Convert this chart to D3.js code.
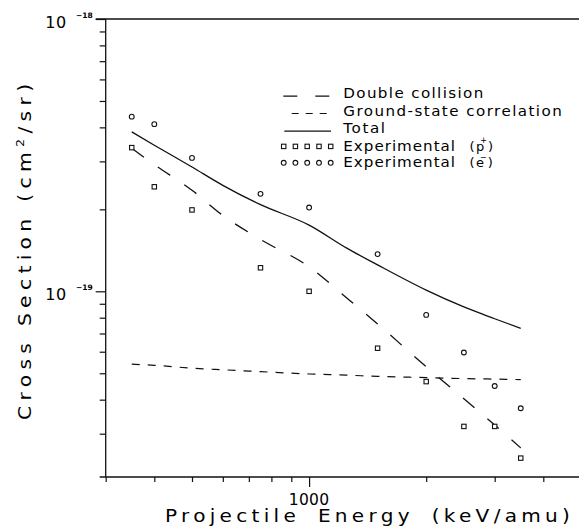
<!DOCTYPE html>
<html>
<head>
<meta charset="utf-8">
<script src="https://cdn.jsdelivr.net/npm/d3@7/dist/d3.min.js"></script>
<style>
  html, body { margin: 0; padding: 0; background: #fff; }
  svg { display: block; }
  text { font-family: "DejaVu Sans", sans-serif; fill: #000; }
</style>
</head>
<body>
<svg id="chart" width="579" height="527"></svg>
<script>
// ---------------- data ----------------
const expEnergies = [350, 400, 500, 750, 1000, 1500, 2000, 2500, 3000, 3500];
const expProton   = [3.37e-19, 2.42e-19, 1.99e-19, 1.22e-19, 1.00e-19, 6.18e-20, 4.66e-20, 3.19e-20, 3.19e-20, 2.44e-20];
const expElectron = [4.38e-19, 4.11e-19, 3.09e-19, 2.28e-19, 2.03e-19, 1.37e-19, 8.19e-20, 5.96e-20, 4.49e-20, 3.72e-20];

const curveEnergies   = [350, 400, 500, 600, 750, 1000, 1250, 1500, 2000, 2500, 3000, 3500];
const doubleCollision = [3.35e-19, 2.92e-19, 2.35e-19, 1.90e-19, 1.55e-19, 1.23e-19, 9.45e-20, 7.59e-20, 5.28e-20, 4.03e-20, 3.23e-20, 2.66e-20];
const groundState     = [5.40e-20, 5.35e-20, 5.22e-20, 5.15e-20, 5.07e-20, 4.97e-20, 4.92e-20, 4.87e-20, 4.82e-20, 4.78e-20, 4.76e-20, 4.74e-20];
const totalCS         = [3.85e-19, 3.44e-19, 2.86e-19, 2.45e-19, 2.08e-19, 1.75e-19, 1.44e-19, 1.25e-19, 1.01e-19, 8.76e-20, 7.93e-20, 7.31e-20];

const xMinorTicks = [300, 400, 500, 600, 700, 800, 900, 2000, 3000, 4000];
const xMajorTicks = [1000];
const xTickLabels = ["1000"];
const yMajorTicks = [1e-18, 1e-19];
const yTickExponents = ["\u221218", "\u221219"];
const yMinorTicks = [3e-20, 4e-20, 5e-20, 6e-20, 7e-20, 8e-20, 9e-20,
                     2e-19, 3e-19, 4e-19, 5e-19, 6e-19, 7e-19, 8e-19, 9e-19];

const legendLabels = ["Double collision", "Ground-state correlation", "Total", "Experimental", "Experimental"];
const legendParticles = ["p", "e"];
const legendCharges = ["+", "\u2212"];

(function () {
const svg = d3.select("#chart");
const pL = 105.7, pT = 19, pB = 477, pR = 579;
const x = d3.scaleLog().domain([300, 5000]).range([pL, pL + 389 * Math.log10(5000 / 300)]);
const y = d3.scaleLog().domain([2.08e-20, 1e-18]).range([pB, pT]);
const ink = "#111";

svg.append("defs").append("clipPath").attr("id", "clip")
  .append("rect").attr("x", pL).attr("y", pT).attr("width", pR - pL).attr("height", pB - pT);

// ---------------- axes ----------------
function styleAxis(g) {
  g.select(".domain").remove();
  g.selectAll("line").attr("stroke", ink).attr("stroke-width", 1.2);
}
svg.append("g").attr("transform", `translate(${pL},0)`)
  .call(d3.axisLeft(y).tickValues(yMinorTicks).tickSize(6).tickFormat(""))
  .call(styleAxis);
svg.append("g").attr("transform", `translate(${pL},0)`)
  .call(d3.axisLeft(y).tickValues(yMajorTicks).tickSize(10).tickFormat(""))
  .call(styleAxis);
svg.append("g").attr("transform", `translate(0,${pB})`)
  .call(d3.axisBottom(x).tickValues(xMinorTicks).tickSize(5).tickFormat(""))
  .call(styleAxis);
svg.append("g").attr("transform", `translate(0,${pB})`)
  .call(d3.axisBottom(x).tickValues(xMajorTicks).tickSize(10).tickFormat(""))
  .call(styleAxis);

svg.append("line").attr("x1", pL).attr("x2", pL).attr("y1", pT).attr("y2", pB)
  .attr("stroke", ink).attr("stroke-width", 1.3);
svg.append("line").attr("x1", pL - 10).attr("x2", pR).attr("y1", pT).attr("y2", pT)
  .attr("stroke", ink).attr("stroke-width", 1.3);
svg.append("line").attr("x1", pL - 6).attr("x2", pR).attr("y1", pB).attr("y2", pB)
  .attr("stroke", ink).attr("stroke-width", 1.3);

function stretched(parent, str, size, tx, ty, target, sx, rot, ws) {
  const t = parent.append("text").attr("font-size", size).text(str);
  if (ws) t.attr("word-spacing", ws);
  t.attr("transform", `translate(${tx},${ty})${rot ? " rotate(" + rot + ")" : ""} scale(${sx},1)`);
  const w = t.node().getComputedTextLength();
  const n = str.length;
  t.attr("letter-spacing", ((target / sx - w) / (n - 1)).toFixed(2));
  return t;
}

yMajorTicks.forEach((v, i) => {
  svg.append("text").attr("x", 66.7).attr("y", y(v) + 8.5)
    .attr("text-anchor", "end").attr("font-size", 16).attr("letter-spacing", 0.5).text("10");
  svg.append("text").attr("x", 76).attr("y", y(v) - 1.5)
    .attr("font-size", 7.5).attr("font-weight", "bold").text(yTickExponents[i]);
});

xMajorTicks.forEach((v, i) => {
  svg.append("text").attr("x", x(v)).attr("y", 505)
    .attr("text-anchor", "middle").attr("font-size", 15.5).attr("letter-spacing", 0.3).text(xTickLabels[i]);
});

stretched(svg, "Projectile Energy (keV/amu)", 17, 165, 521.5, 405, 1.18, 0, 6);

{
  const sx = 1.16, target = 336;
  const yt = svg.append("text").attr("font-size", 17.5)
    .attr("transform", `translate(31,420) rotate(-90) scale(${sx},1)`);
  yt.append("tspan").text("Cross Section (cm");
  yt.append("tspan").attr("font-size", 11).attr("dy", -7).text("2");
  yt.append("tspan").attr("dy", 7).text("/sr)");
  const n = "Cross Section (cm2/sr)".length;
  const w = yt.node().getComputedTextLength();
  yt.attr("letter-spacing", ((target / sx - w) / (n - 1)).toFixed(2));
}

// ---------------- curves ----------------
const plot = svg.append("g").attr("clip-path", "url(#clip)");
const line = d3.line().x(d => x(d[0])).y(d => y(d[1])).curve(d3.curveMonotoneX);

plot.append("path").datum(curveEnergies.map((e, i) => [e, doubleCollision[i]]))
  .attr("d", line).attr("fill", "none").attr("stroke", ink).attr("stroke-width", 1.3)
  .attr("stroke-dasharray", "15,17");
plot.append("path").datum(curveEnergies.map((e, i) => [e, groundState[i]]))
  .attr("d", line).attr("fill", "none").attr("stroke", ink).attr("stroke-width", 1.2)
  .attr("stroke-dasharray", "8,8");
plot.append("path").datum(curveEnergies.map((e, i) => [e, totalCS[i]]))
  .attr("d", line).attr("fill", "none").attr("stroke", ink).attr("stroke-width", 1.3);

// ---------------- markers ----------------
plot.selectAll("rect.p").data(expEnergies.map((e, i) => [e, expProton[i]])).enter()
  .append("rect").attr("class", "p")
  .attr("x", d => x(d[0]) - 2.2).attr("y", d => y(d[1]) - 2.2)
  .attr("width", 4.4).attr("height", 4.4)
  .attr("fill", "#fff").attr("stroke", ink).attr("stroke-width", 1.1);
plot.selectAll("circle.e").data(expEnergies.map((e, i) => [e, expElectron[i]])).enter()
  .append("circle").attr("class", "e")
  .attr("cx", d => x(d[0])).attr("cy", d => y(d[1])).attr("r", 2.4)
  .attr("fill", "#fff").attr("stroke", ink).attr("stroke-width", 1.1);

// ---------------- legend ----------------
const lgX = 343.3;
const lgBase = [97.7, 115.5, 132.7, 150.7, 167.3];
const lgWidths = [140, 218.4, 41.7, 111.7, 111.7];
legendLabels.forEach((t, i) => {
  stretched(svg, t, 13.5, lgX, lgBase[i], lgWidths[i], 1.12, 0, 0);
});
svg.append("line").attr("x1", 283.3).attr("x2", 331).attr("y1", lgBase[0] - 1.5).attr("y2", lgBase[0] - 1.5)
  .attr("stroke", ink).attr("stroke-width", 1.3).attr("stroke-dasharray", "14,18");
svg.append("line").attr("x1", 291.7).attr("x2", 330).attr("y1", lgBase[1] - 2).attr("y2", lgBase[1] - 2)
  .attr("stroke", ink).attr("stroke-width", 1.2).attr("stroke-dasharray", "7,7");
svg.append("line").attr("x1", 284.3).attr("x2", 331).attr("y1", lgBase[2] - 1.5).attr("y2", lgBase[2] - 1.5)
  .attr("stroke", ink).attr("stroke-width", 1.3);
const symX = [283.7, 295.4, 307.2, 319, 330.7];
svg.selectAll("rect.lg").data(symX).enter().append("rect").attr("class", "lg")
  .attr("x", d => d - 2.2).attr("y", lgBase[3] - 6.5).attr("width", 4.4).attr("height", 4.4)
  .attr("fill", "#fff").attr("stroke", ink).attr("stroke-width", 1.1);
svg.selectAll("circle.lg").data(symX).enter().append("circle").attr("class", "lg")
  .attr("cx", d => d).attr("cy", lgBase[4] - 4.5).attr("r", 2.4)
  .attr("fill", "#fff").attr("stroke", ink).attr("stroke-width", 1.1);

legendParticles.forEach((p, i) => {
  const b = lgBase[3 + i];
  const t = svg.append("text").attr("x", 469.5).attr("y", b).attr("font-size", 13);
  t.append("tspan").text("(");
  t.append("tspan").attr("dx", 1.5).text(p);
  t.append("tspan").attr("font-size", 8).attr("dx", -4).attr("dy", -7.5).text(legendCharges[i]);
  t.append("tspan").attr("dx", 1).attr("dy", 7.5).text(")");
});
})();
</script>
</body>
</html>
